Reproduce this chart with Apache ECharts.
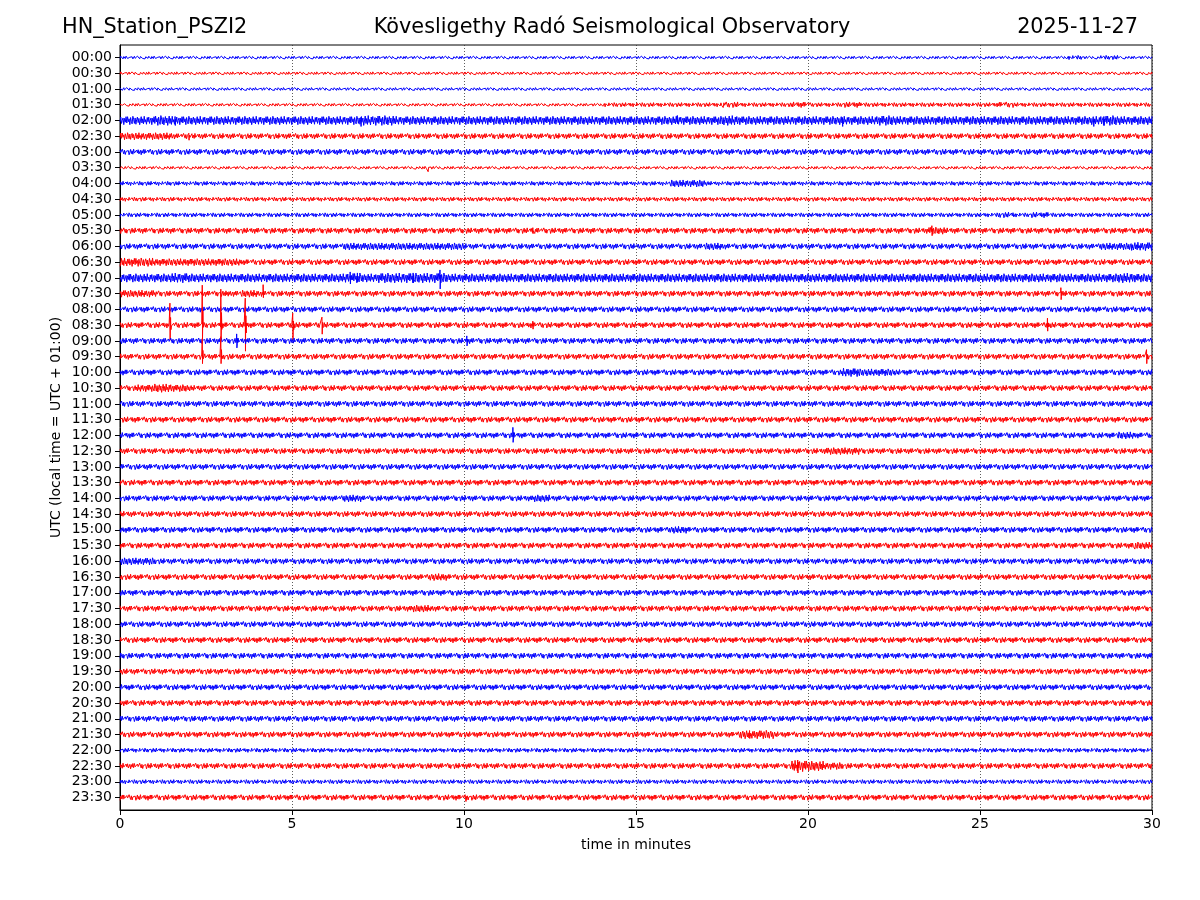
<!DOCTYPE html>
<html>
<head>
<meta charset="utf-8">
<script src="https://cdn.jsdelivr.net/npm/echarts@6.0.0/dist/echarts.min.js"></script>
<style>
html,body{margin:0;padding:0;background:#fff;}
#chart{width:1200px;height:900px;}
</style>
</head>
<body>
<div id="chart"></div>
<script>
// ---- tick labels (one per 30-minute trace) ----
const timeLabels = ["00:00","00:30","01:00","01:30","02:00","02:30","03:00","03:30","04:00","04:30",
  "05:00","05:30","06:00","06:30","07:00","07:30","08:00","08:30","09:00","09:30",
  "10:00","10:30","11:00","11:30","12:00","12:30","13:00","13:30","14:00","14:30",
  "15:00","15:30","16:00","16:30","17:00","17:30","18:00","18:30","19:00","19:30",
  "20:00","20:30","21:00","21:30","22:00","22:30","23:00","23:30"];

// ---- amplitude envelope of each trace, one digit per 0.5 minute (half-amplitude, units of ENV_UNIT px) ----
const envelopes = [
  "2222222222 2222222222 2222222222 2222222222 2222222222 2222232322",
  "2222222222 2222222222 2222222222 2222222222 2222222222 2222222222",
  "2222222222 2222222222 2222222222 2222222222 2222222222 2222222222",
  "2222222222 2222222222 2222222233 3333343334 3343333333 3433333333",
  "6676666666 6666776666 6666666666 6666676666 6666766666 6666666766",
  "5554444444 4444444444 4444444444 4444444444 4444444444 4444444444",
  "4444444444 4444444444 4444444444 4444444444 4444444444 4444444444",
  "2222222222 2222222222 2222222222 2222222222 2222222222 2222222222",
  "3333333333 3333333333 3333333333 3355333333 3333333333 3333333333",
  "3333333333 3333333333 3333333333 3333333333 3333333333 3333333333",
  "3333333333 3333333333 3333333333 3333333333 3333333333 3434333333",
  "4444444444 4444444444 4444444444 4444444444 4444444544 4444444444",
  "4444444444 4445555555 4444444444 4444544444 4444444444 4444444556",
  "6655555444 4444444444 4444444444 4444444444 4444444444 4444444444",
  "6667666666 6667677776 6666666666 6666666666 6666666666 6666666676",
  "5544444544 4444444444 4444444444 4444444444 4444444444 4444444444",
  "4444444444 4444444444 4444444444 4444444444 4444444444 4444444444",
  "4444444444 4444444444 4444444444 4444444444 4444444444 4444444444",
  "4444444444 4444444444 4444444444 4444444444 4444444444 4444444444",
  "4444444444 4444444444 4444444444 4444444444 4444444444 4444444444",
  "4444444444 4444444444 4444444444 4444444444 4465544444 4444444444",
  "4565444444 4444444444 4444444444 4444444444 4444444444 4444444444",
  "4444444444 4444444444 4444444444 4444444444 4444444444 4444444444",
  "4444444444 4444444444 4444444444 4444444444 4444444444 4444444444",
  "4444444444 4444444444 4444444444 4444444444 4444444444 4444444454",
  "4444444444 4444444444 4444444444 4444444444 4554444444 4444444444",
  "4444444444 4444444444 4444444444 4444444444 4444444444 4444444444",
  "4444444444 4444444444 4444444444 4444444444 4444444444 4444444444",
  "4444444444 4445444444 4444544444 4444444444 4444444444 4444444444",
  "4444444444 4444444444 4444444444 4444444444 4444444444 4444444444",
  "4444444444 4444444444 4444444444 4454444444 4444444444 4444444444",
  "4444444444 4444444444 4444444444 4444444444 4444444444 4444444445",
  "5544444444 4444444444 4444444444 4444444444 4444444444 4444444444",
  "4444444444 4444444454 4444444444 4444444444 4444444444 4444444444",
  "4444444444 4444444444 4444444444 4444444444 4444444444 4444444444",
  "4444444444 4444444544 4444444444 4444444444 4444444444 4444444444",
  "4444444444 4444444444 4444444444 4444444444 4444444444 4444444444",
  "4444444444 4444444444 4444444444 4444444444 4444444444 4444444444",
  "4444444444 4444444444 4444444444 4444444444 4444444444 4444444444",
  "4444444444 4444444444 4444444444 4444444444 4444444444 4444444444",
  "4444444444 4444444444 4444444444 4444444444 4444444444 4444444444",
  "4444444444 4444444444 4444444444 4444444444 4444444444 4444444444",
  "4444444444 4444444444 4444444444 4444444444 4444444444 4444444444",
  "4444444444 4444444444 4444444444 4444446644 4444444444 4444444444",
  "3333333333 3333333333 3333333333 3333333333 3333333333 3333333333",
  "4444444444 4444444444 4444444444 4444444448 7544444444 4444444444",
  "3333333333 3333333333 3333333333 3333333333 3333333333 3333333333",
  "4444444444 4444444444 4444444444 4444444444 4444444444 4444444444"
];

// ---- wiggle texture applied to the envelopes (relative, -1..1) ----
const wiggle = [0.6,-0.9,0.3,-0.4,1.0,-0.7,0.2,0.8,-1.0,-0.3,0.7,-0.6,0.9,-0.2,-0.8,0.5,-0.5,1.0,
  0.1,-0.9,0.6,-0.4,0.8,-1.0,0.4,-0.2,0.9,-0.7,0.3,-0.8,0.7,0.0,-0.6,1.0,-0.5,0.4,-0.9];

// ---- discrete arrivals: [trace index, minute, up px, down px] ----
const spikes = [
  [4,1.6,4,5],[4,7.0,3,6],[4,16.2,5,3],[4,21.0,3,6],[4,28.3,3,6],[4,28.6,4,5],
  [5,2.0,3,4],
  [7,8.95,1,4],
  [11,23.6,5,5],[11,12.0,3,3],
  [12,29.4,4,4],
  [14,6.69,6,6],[14,6.9,5,4],[14,8.52,5,5],[14,9.3,8,11],
  [15,3.1,4,2],[15,4.16,9,4],[15,27.35,6,6],
  [17,1.45,22,15],[17,2.39,40,14],[17,2.93,36,14],[17,3.64,27,26],[17,5.02,12,15],[17,5.87,8,9],[17,12.0,4,4],[17,26.96,7,6],
  [18,3.39,7,7],[18,10.08,5,5],
  [19,2.39,18,7],[19,2.93,20,7],[19,29.84,7,7],
  [24,11.42,8,7],
  [43,18.3,4,4],
  [45,19.7,6,7],
  [47,10.05,3,4]
];

// ---- rendering constants ----
const PX_PER_TRACE = 15.745;
const ENV_UNIT = 0.7;
const STEP = 0.022;
const COLORS = ['#0000ff', '#ff0000'];
const FONT = 'DejaVu Sans';

function buildTrace(i) {
  const env = envelopes[i].replace(/ /g, '');
  const pts = [];
  const n = Math.round(30 / STEP);
  for (let k = 0; k <= n; k++) {
    const x = Math.min(30, +(k * STEP).toFixed(4));
    const seg = Math.min(env.length - 1, Math.floor(x / 0.5));
    const a = +env[seg] * ENV_UNIT;
    const s = wiggle[(k + i * 7) % wiggle.length];
    pts.push([x, i + a * s / PX_PER_TRACE]);
  }
  spikes.filter(sp => sp[0] === i).forEach(sp => {
    const m = sp[1], up = sp[2], down = sp[3];
    pts.push([m + 0.001, i - up / PX_PER_TRACE]);
    pts.push([m + 0.008, i + down / PX_PER_TRACE]);
    pts.push([m + 0.02, i - up * 0.35 / PX_PER_TRACE]);
    pts.push([m + 0.032, i + down * 0.3 / PX_PER_TRACE]);
  });
  pts.sort((p, q) => p[0] - q[0]);
  return pts;
}

const series = timeLabels.map((lab, i) => ({
  name: lab,
  type: 'line',
  data: buildTrace(i),
  showSymbol: false,
  symbol: 'none',
  silent: true,
  animation: false,
  clip: true,
  lineStyle: { width: 1, color: COLORS[i % 2] },
  z: 3
}));

const idx = timeLabels.map((_, i) => i);

const chart = echarts.init(document.getElementById('chart'), null, { renderer: 'canvas' });
chart.setOption({
  backgroundColor: '#ffffff',
  animation: false,
  grid: { left: 120, right: 48, top: 45, bottom: 90, show: true, borderColor: '#000', borderWidth: 1, backgroundColor: 'rgba(0,0,0,0)' },
  xAxis: {
    type: 'value', min: 0, max: 30, interval: 5,
    name: 'time in minutes', nameLocation: 'middle', nameGap: 28,
    nameTextStyle: { fontFamily: FONT, fontSize: 14, color: '#000' },
    axisLine: { show: true, onZero: false, lineStyle: { color: '#000', width: 1 } },
    axisTick: { show: true, length: 5, lineStyle: { color: '#000' } },
    axisLabel: { fontFamily: FONT, fontSize: 14, color: '#000', margin: 7, formatter: v => String(v) },
    splitLine: { show: true, lineStyle: { color: '#333', width: 0.8, type: [1, 2] } }
  },
  yAxis: {
    type: 'value', inverse: true, min: -0.794, max: 47.794,
    name: 'UTC (local time = UTC + 01:00)', nameLocation: 'middle', nameGap: 57, nameRotate: 90,
    nameMoveOverlap: false,
    nameTextStyle: { fontFamily: FONT, fontSize: 14, color: '#000' },
    axisLine: { show: true, onZero: false, lineStyle: { color: '#000', width: 1 } },
    axisTick: { show: true, length: 5, customValues: idx, lineStyle: { color: '#000' } },
    axisLabel: { fontFamily: FONT, fontSize: 14, color: '#000', margin: 8, customValues: idx,
      formatter: v => timeLabels[Math.round(v)] },
    splitLine: { show: false }
  },
  graphic: [
    { type: 'text', x: 62, y: 28, style: { text: 'HN_Station_PSZI2', fill: '#000', font: '20.8px "DejaVu Sans"', textAlign: 'left', textVerticalAlign: 'middle' } },
    { type: 'text', x: 612, y: 28, style: { text: 'Kövesligethy Radó Seismological Observatory', fill: '#000', font: '20.8px "DejaVu Sans"', textAlign: 'center', textVerticalAlign: 'middle' } },
    { type: 'text', x: 1138, y: 28, style: { text: '2025-11-27', fill: '#000', font: '20.8px "DejaVu Sans"', textAlign: 'right', textVerticalAlign: 'middle' } }
  ],
  series: series
});
</script>
</body>
</html>
